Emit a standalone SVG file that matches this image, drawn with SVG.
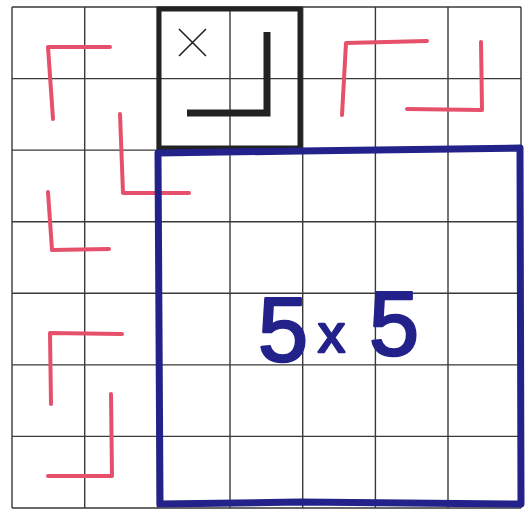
<svg xmlns="http://www.w3.org/2000/svg" width="527" height="513" viewBox="0 0 527 513">
<style>
.grid{stroke:#3a3a3a;stroke-width:1.4;fill:none}
.red{stroke:#e6506a;stroke-width:4;fill:none;stroke-linecap:round;stroke-linejoin:round}
.blk{stroke:#222;fill:none}
.blue{stroke:#22228a;stroke-width:7;fill:none;stroke-linejoin:round}
.lbl{font-family:"Liberation Sans",Arial,sans-serif;fill:#22228a;stroke:#22228a;stroke-width:2.5;stroke-linejoin:round}
</style>
<rect width="527" height="513" fill="#ffffff"/>
<g id="grid" class="grid">
<path d="M12,7V508M84.7,7V508M157.4,7V508M230,7V508M302.7,7V508M375.4,7V508M448,7V508M521,7V508"/>
<path d="M12,7H521M12,78.6H521M12,150.1H521M12,221.7H521M12,293.3H521M12,364.9H521M12,436.4H521M12,508H521"/>
</g>
<g id="example-box">
<rect class="blk" x="159" y="9" width="141" height="139" stroke-width="5"/>
<path class="blk" d="M179,29L206,56M206,29L179,56" stroke-width="1.6"/>
<path class="blk" d="M267,32V113H187" stroke-width="7"/>
</g>
<g id="red-pieces">
<path class="red" d="M110,47L48,47L53,119"/>
<path class="red" d="M120,114L123,193L189,193"/>
<path class="red" d="M48,192L52,250L109,249"/>
<path class="red" d="M122,334L50,333L51,404"/>
<path class="red" d="M111,394L112,476L48,476"/>
<path class="red" d="M427,41L346,43L342,115"/>
<path class="red" d="M481,42L482,110L407,109"/>
</g>
<g id="square-5x5">
<path class="blue" d="M158,153L300,151L520,148L521,504L300,502L160,504Z"/>
<text class="lbl" font-size="90"><tspan x="258" y="361">5</tspan> <tspan x="318" y="352" font-size="54">x</tspan> <tspan x="369" y="355">5</tspan></text>
</g>
</svg>
